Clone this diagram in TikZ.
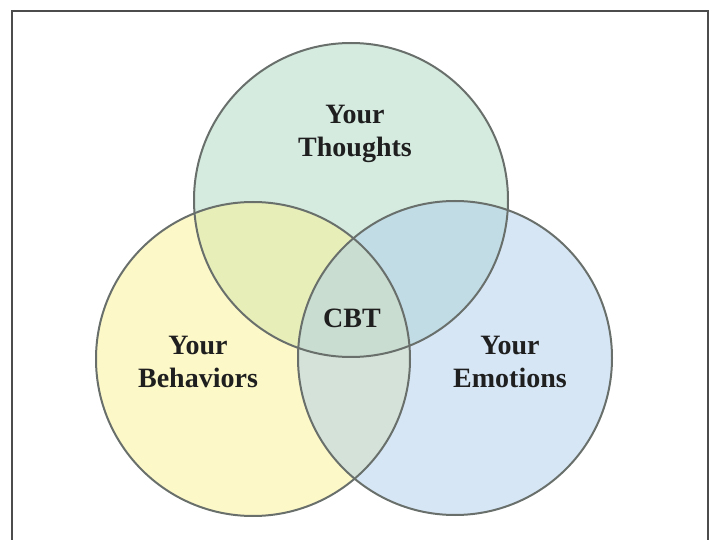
\documentclass[tikz,border=0pt]{standalone}
\usepackage{fontspec}
\setmainfont{Liberation Serif}

\definecolor{thoughtfill}{RGB}{171,215,193}
\definecolor{behavefill}{RGB}{251,241,145}
\definecolor{emotefill}{RGB}{173,205,235}
\definecolor{ringline}{RGB}{105,112,108}

\begin{document}
\begin{tikzpicture}[x=1pt, y=-1pt,
  main/.style = {circle, minimum size=314pt, inner sep=0pt, outer sep=0pt},
  lbl/.style = {font=\bfseries\fontsize{28}{33}\selectfont, align=center, text=black!88}]
\useasboundingbox (0,0) rectangle (713,540);
% frame, open at the bottom
\draw[line width=1.5pt, black!70] (12,545) -- (12,11) -- (708,11) -- (708,545);

% fills first
\node[main, fill=thoughtfill, fill opacity=0.5] (1) at (351,200) {};
\node[main, fill=behavefill, fill opacity=0.5] (2) at (253,359) {};
\node[main, fill=emotefill, fill opacity=0.5] (3) at (455,358) {};
% outlines on top of the fills
\foreach \n in {1,2,3}
  \node[main, draw=ringline, line width=2pt] at (\n) {};

\node[lbl] (4) at (355,134) {Your\\Thoughts};
\node[lbl] (5) at (198,362) {Your\\Behaviors};
\node[lbl] (6) at (510,362) {Your\\Emotions};
\node[lbl] (7) at (352,318) {CBT};

\end{tikzpicture}
\end{document}
